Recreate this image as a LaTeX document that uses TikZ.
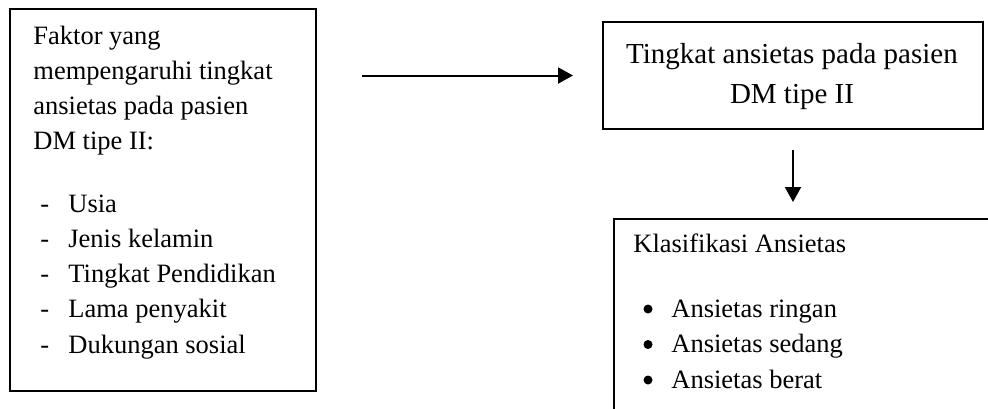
\documentclass[tikz,border=0pt]{standalone}
\usepackage{fontspec}
\setmainfont{Liberation Serif}
\usetikzlibrary{arrows.meta,positioning,calc}

\tikzset{
  box/.style={draw, line width=1pt, inner sep=0pt, anchor=north west},
  txt/.style={anchor=base west, inner sep=0pt, font=\fontsize{13.25}{16}\selectfont},
  big/.style={anchor=base, inner sep=0pt, font=\fontsize{14.5}{17}\selectfont},
  dot/.style={circle, fill, inner sep=0pt, minimum size=4.5pt},
  link/.style={-{Triangle[length=7.5pt,width=8pt]}, line width=1pt}
}

\begin{document}
\begin{tikzpicture}[x=0.5pt,y=-0.5pt]
            \useasboundingbox (0,0) rectangle (988,408);
            \clip (0,0) rectangle (988,408);
            % boxes
            \node[box, minimum width=153pt, minimum height=191pt] (faktor) at (9,8) {};
            \node[box, minimum width=190pt, minimum height=53.5pt] (tingkat) at (602,21) {};
            \node[box, minimum width=200pt, minimum height=110pt] (klas) at (613,218) {};
            % left box text
            \foreach \t [count=\i] in {Faktor yang, mempengaruhi tingkat, ansietas pada pasien, DM tipe II:}
            \node[txt] (h\i) at (33,{44+35.3*(\i-1)}) {\t};
            \foreach \t [count=\i] in {Usia, Jenis kelamin, Tingkat Pendidikan, Lama penyakit, Dukungan sosial}
            {
            \node[txt] (d\i) at (40,{212+35.3*(\i-1)}) {-};
            \node[txt] (f\i) at (68,{212+35.3*(\i-1)}) {\t};
            }
            % right boxes text
            \node[big] (t1) at (792,63) {Tingkat ansietas pada pasien};
            \node[big] (t2) at (792,103) {DM tipe II};
            \node[txt] (k0) at (633,252) {Klasifikasi Ansietas};
            \foreach \t [count=\i] in {Ansietas ringan, Ansietas sedang, Ansietas berat}
            {
            \node[dot] (b\i) at (648,{309+35.5*(\i-1)}) {};
            \node[txt] (k\i) at (671,{317+35.5*(\i-1)}) {\t};
            }
            % arrows
            \draw[link, shorten <=22.5pt, shorten >=14.5pt] (faktor.east |- tingkat.west) -- (tingkat.west);
            \draw[link, shorten <=10pt, shorten >=8pt] (tingkat.south) -- (tingkat.south |- klas.north);
\end{tikzpicture}
\end{document}
